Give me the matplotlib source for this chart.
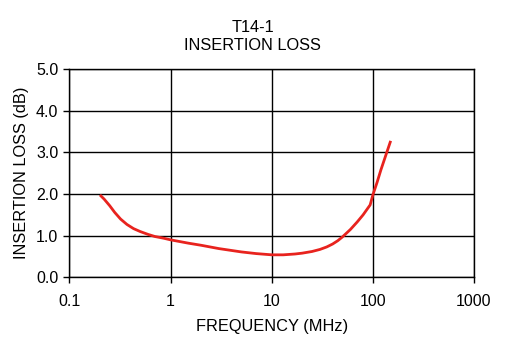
import matplotlib
matplotlib.use("Agg")
import matplotlib.pyplot as plt
from matplotlib.ticker import FixedLocator, NullLocator, FixedFormatter

plt.rcParams['font.family'] = ['Liberation Sans', 'DejaVu Sans']

freq_mhz = [0.2, 0.22, 0.25, 0.28, 0.32, 0.37, 0.43, 0.5, 0.6, 0.7, 0.85, 1, 1.5, 2, 3, 5, 7,
            10, 13, 17, 20, 25, 30, 35, 40, 45, 50, 60, 70, 80, 94, 100, 110, 120, 135, 150]
loss_db = [1.98, 1.88, 1.72, 1.56, 1.40, 1.27, 1.17, 1.10, 1.03, 0.98, 0.94, 0.90, 0.82, 0.77, 0.69, 0.61, 0.57,
           0.54, 0.54, 0.56, 0.58, 0.62, 0.67, 0.73, 0.80, 0.88, 0.97, 1.15, 1.33, 1.50, 1.74, 1.98, 2.28, 2.58, 2.95, 3.28]

x_ticks = [0.1, 1, 10, 100, 1000]
x_labels = ["0.1", "1", "10", "100", "1000"]
y_ticks = [0.0, 1.0, 2.0, 3.0, 4.0, 5.0]
y_labels = ["0.0", "1.0", "2.0", "3.0", "4.0", "5.0"]

fig = plt.figure(figsize=(5.05, 3.59), dpi=100)
ax = fig.add_axes([0.1376, 0.2276, 0.801, 0.5794])
ax.plot(freq_mhz, loss_db, color='#e8231e', lw=2.0, solid_capstyle='butt', zorder=3)
ax.set_xscale('log')
ax.set_xlim(0.1, 1000)
ax.set_ylim(0, 5)
ax.xaxis.set_major_locator(FixedLocator(x_ticks))
ax.xaxis.set_major_formatter(FixedFormatter(x_labels))
ax.xaxis.set_minor_locator(NullLocator())
ax.set_yticks(y_ticks)
ax.set_yticklabels(y_labels)
ax.grid(True, color='black', lw=1.0)
for s in ax.spines.values():
    s.set_color('black')
    s.set_linewidth(1.0)
ax.tick_params(axis='both', direction='out', length=4, width=1, labelsize=11.5, colors='black')
ax.tick_params(axis='x', pad=8)
ax.tick_params(axis='y', pad=4)
ax.set_xlabel("FREQUENCY (MHz)", fontsize=11.8, labelpad=7)
ax.set_ylabel("INSERTION LOSS (dB)", fontsize=11.8, labelpad=5)
fig.text(0.5, 1 - 28 / 359, "T14-1", ha='center', va='center', fontsize=11.8)
fig.text(0.5, 1 - 45 / 359, "INSERTION LOSS", ha='center', va='center', fontsize=11.8)
fig.savefig("out.png", dpi=100)
